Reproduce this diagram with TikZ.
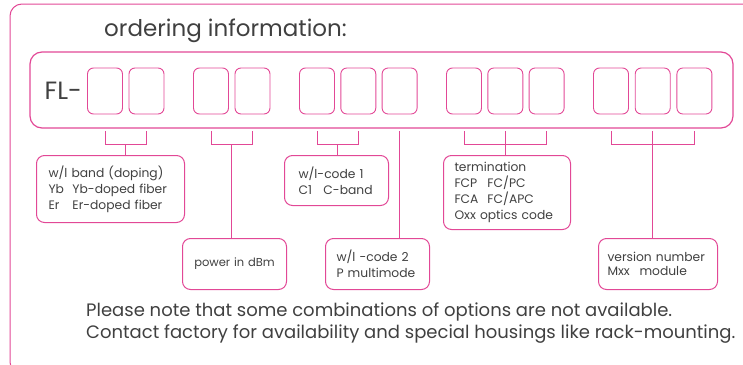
\documentclass[tikz,border=0pt]{standalone}
\usepackage{fontspec}
\setmainfont{Poppins}
\usetikzlibrary{calc}
\definecolor{ordpink}{RGB}{226,72,150}
\definecolor{ordtext}{RGB}{64,64,64}

\begin{document}
\begin{tikzpicture}[x=1pt, y=-1pt,
  frame/.style={draw=ordpink, line width=1pt, rounded corners=12pt},
  digit/.style={draw=ordpink, line width=0.9pt, rounded corners=6pt, minimum width=35pt, minimum height=46pt, inner sep=0pt},
  info/.style={draw=ordpink, line width=1pt, rounded corners=8pt, anchor=north west, align=left, inner xsep=12pt, inner ysep=0pt, text=ordtext, font=\fontsize{12.3}{16}\selectfont},
  note/.style={anchor=base west, inner sep=0pt, text=ordtext, font=\fontsize{18}{22}\selectfont},
  link/.style={draw=ordpink, line width=0.9pt}]

\useasboundingbox (0,0) rectangle (743,364);

% outer frame and title
\draw[frame] (10,4) rectangle (760,374);
\node[anchor=base west, inner sep=0pt, text=ordtext, font=\fontsize{23}{26}\selectfont] (title) at (104,36) {ordering information:};

% code bar
\node[frame, line width=1.2pt, minimum width=703pt, minimum height=76pt, inner sep=0pt] (bar) at (381.5,90) {};
\foreach \i in {1,2} \node[digit] (fl\i) at (105+41.5*\i-41.5,91) {};
\foreach \i in {1,2} \node[digit] (pw\i) at (211+41.5*\i-41.5,91) {};
\foreach \i in {1,2,3} \node[digit] (wl\i) at (317+41.3*\i-41.3,91) {};
\foreach \i in {1,2,3} \node[digit] (tm\i) at (464+41.3*\i-41.3,91) {};
\foreach \i in {1,2,3} \node[digit] (vn\i) at (611+41.7*\i-41.7,91) {};
\node[anchor=east, inner sep=0pt, text=ordtext, font=\fontsize{25}{28}\selectfont] (prefix) at ([xshift=-5pt]fl1.west) {FL-};

% option boxes
\node[info, text width=124pt, minimum height=67pt] (band) at (36,155)
  {w/l band (doping)\\\makebox[24pt][l]{Yb}Yb-doped fiber\\\makebox[24pt][l]{Er}Er-doped fiber};
\node[info, inner xsep=4pt, text width=96pt, align=center, minimum height=51pt, font=\fontsize{11.5}{16}\selectfont] (power) at (182,238) {power in dBm};
\node[info, inner xsep=14pt, text width=76pt, minimum height=50pt] (code1) at (284,155)
  {w/l-code 1\\\makebox[25pt][l]{C1}C-band};
\node[info, inner xsep=11pt, text width=82pt, minimum height=51pt] (code2) at (325,238)
  {w/l -code 2\\P multimode};
\node[info, inner xsep=11pt, text width=105pt, minimum height=74pt] (term) at (443,155)
  {termination\\\makebox[33pt][l]{FCP}FC/PC\\\makebox[33pt][l]{FCA}FC/APC\\Oxx optics code};
\node[info, inner xsep=9pt, text width=101pt, minimum height=51pt, font=\fontsize{12.3}{14.5}\selectfont] (version) at (598,238)
  {version number\\\makebox[32pt][l]{Mxx}module};

% connectors
\coordinate (tick) at (0,131);
\coordinate (join) at (0,144);
\draw[link] (fl1.south|-tick) -- (fl1.south|-join) -| (fl2.south|-tick);
\draw[link] ($(fl1.south|-join)!0.5!(fl2.south|-join)$) -- ($(fl1.south|-band.north)!0.5!(fl2.south|-band.north)$);
\draw[link] (pw1.south|-tick) -- (pw1.south|-join) -| (pw2.south|-tick);
\draw[link] ($(pw1.south|-join)!0.5!(pw2.south|-join)$) -- ($(pw1.south|-power.north)!0.5!(pw2.south|-power.north)$);
\draw[link] (wl1.south|-tick) -- (wl1.south|-join) -| (wl2.south|-tick);
\draw[link] ($(wl1.south|-join)!0.5!(wl2.south|-join)$) -- ($(wl1.south|-code1.north)!0.5!(wl2.south|-code1.north)$);
\draw[link] (wl3.south|-tick) -- (wl3.south|-code2.north);
\draw[link] (tm1.south|-tick) -- (tm1.south|-join) -| (tm3.south|-tick);
\draw[link] (tm2.south|-tick) -- (tm2.south|-term.north);
\draw[link] (vn1.south|-tick) -- (vn1.south|-join) -| (vn3.south|-tick);
\draw[link] (vn2.south|-tick) -- (vn2.south|-version.north);

% note
\node[note] (note1) at (86,316) {Please note that some combinations of options are not available.};
\node[note] (note2) at (86,338) {Contact factory for availability and special housings like rack-mounting.};

\end{tikzpicture}
\end{document}
